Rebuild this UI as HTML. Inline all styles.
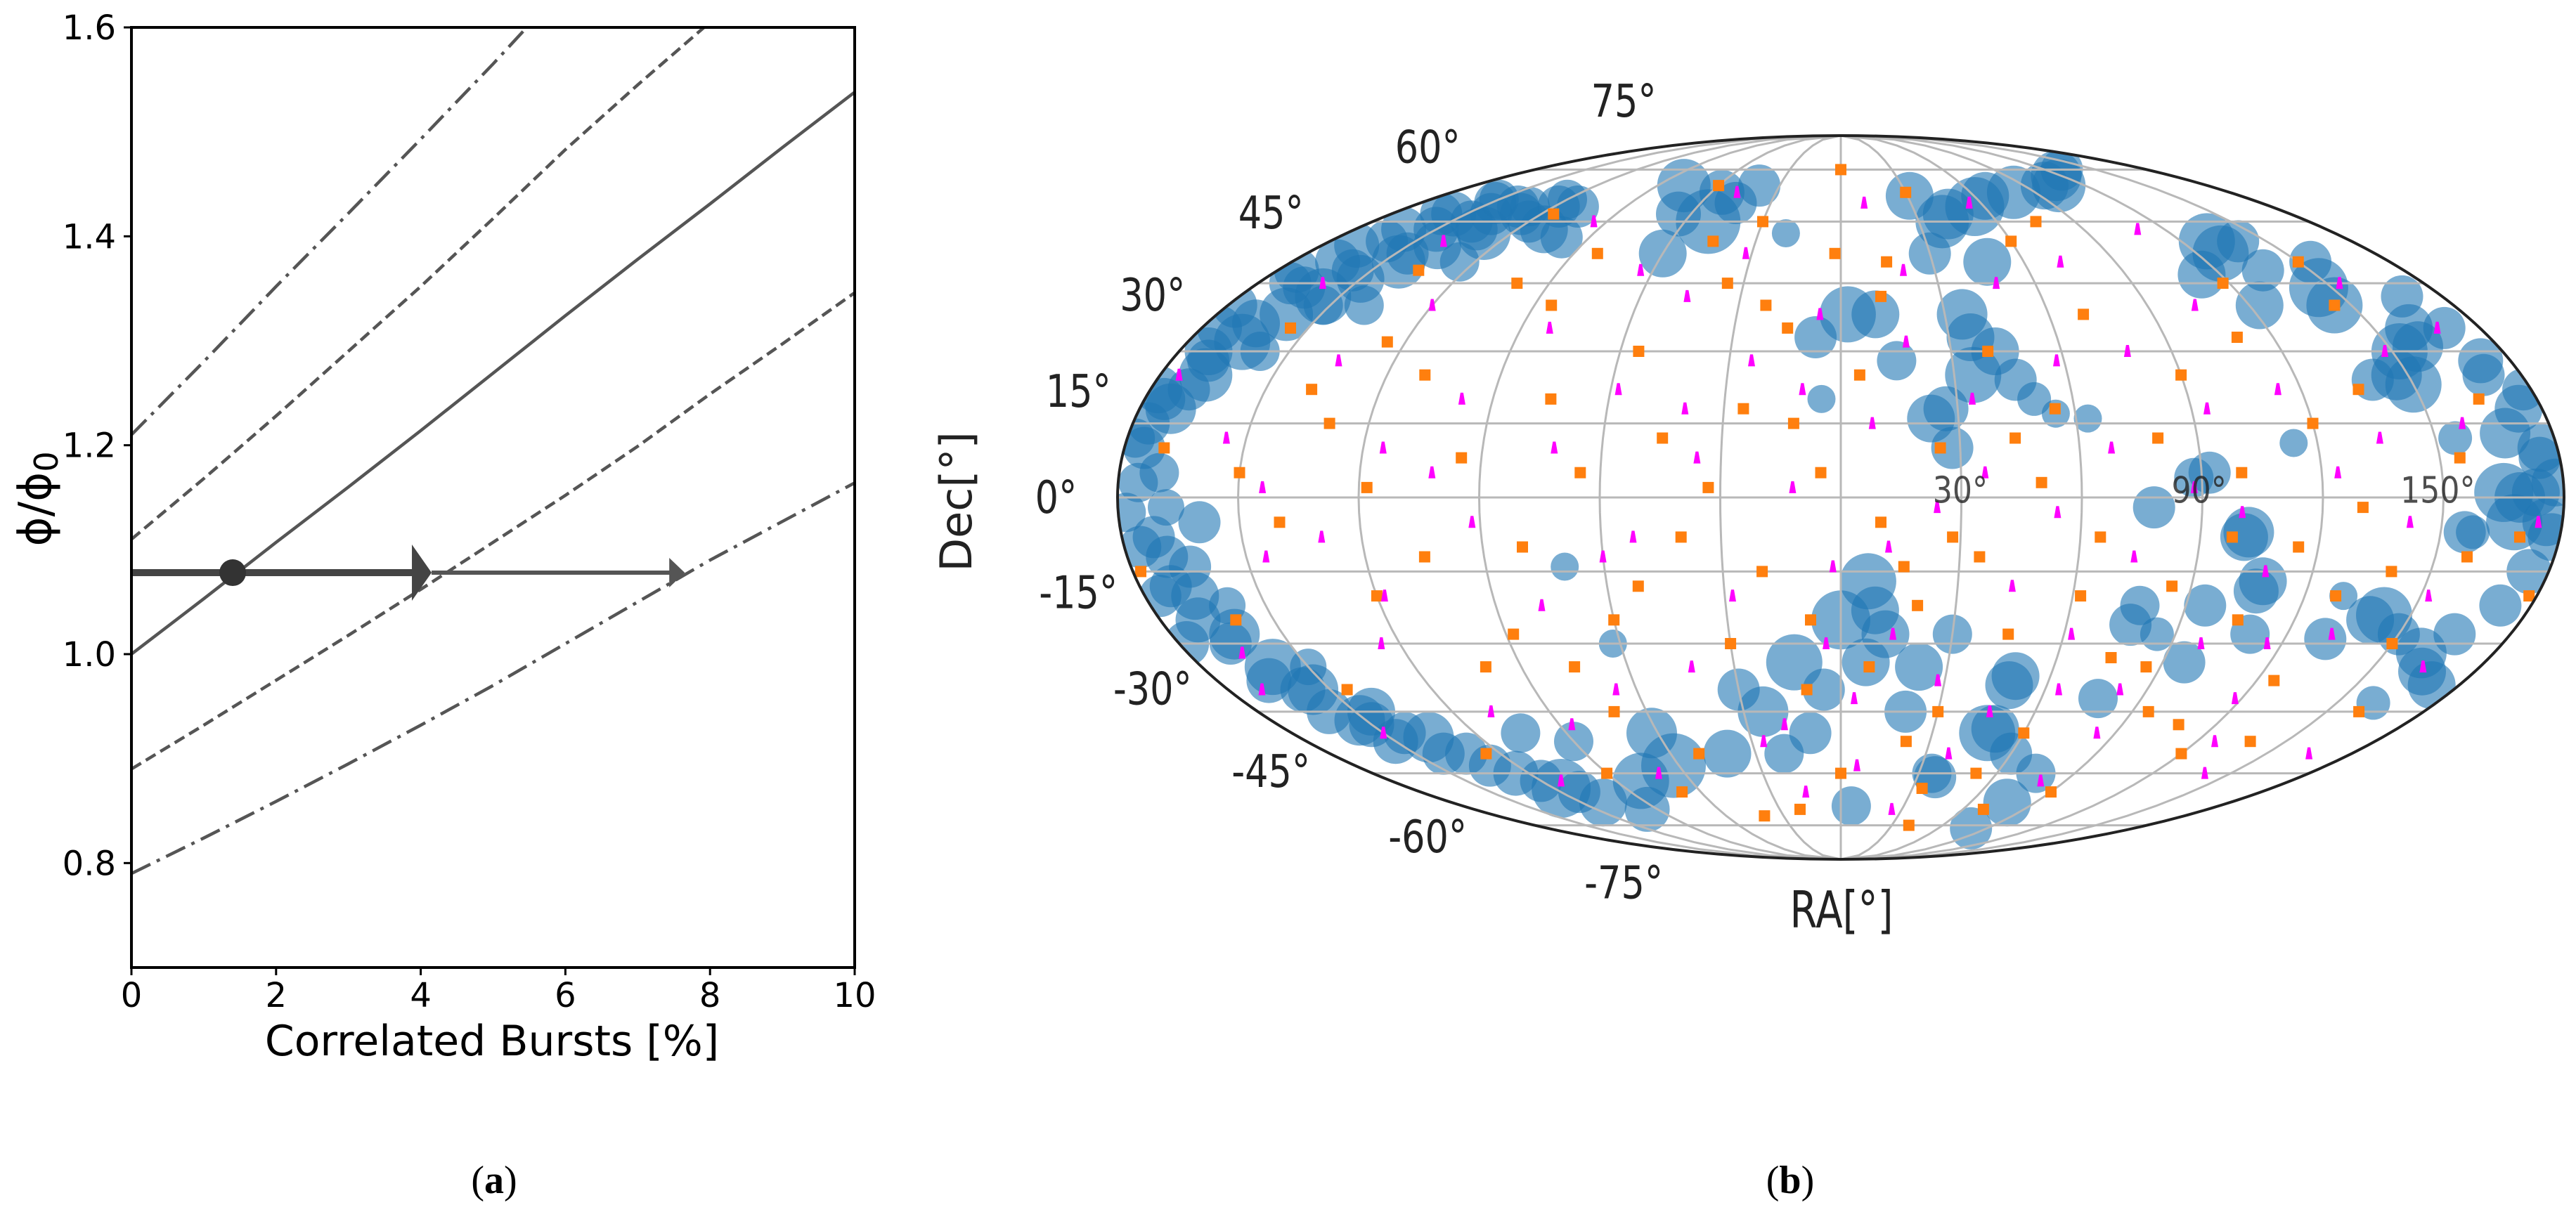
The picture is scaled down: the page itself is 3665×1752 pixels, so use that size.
<!DOCTYPE html>
<html><head><meta charset="utf-8">
<style>
html,body{margin:0;padding:0;background:#fff;}
svg{display:block;}
.tick{font-family:"DejaVu Sans","Liberation Sans",sans-serif;font-size:48px;fill:#000;}
.cond{font-family:"DejaVu Sans","Liberation Sans",sans-serif;fill:#222;}
</style></head>
<body>
<svg id="root" width="3665" height="1752" viewBox="0 0 3665 1752" xmlns="http://www.w3.org/2000/svg">
<defs>
<clipPath id="clipA"><rect x="187" y="39" width="1029" height="1338"/></clipPath>
<clipPath id="clipB"><ellipse cx="2619" cy="708" rx="1029" ry="515"/></clipPath>
</defs>
<g id="panelA"></g>
<g id="panelB"></g>
<text x="703" y="1698" font-family="Liberation Serif,serif" font-size="56" text-anchor="middle">(<tspan font-weight="bold">a</tspan>)</text>
<text x="2547" y="1698" font-family="Liberation Serif,serif" font-size="56" text-anchor="middle">(<tspan font-weight="bold">b</tspan>)</text>
</svg>
<script>
// ---------- Panel A data ----------
const xTicks = [0, 2, 4, 6, 8, 10];
const yTicks = [0.8, 1.0, 1.2, 1.4, 1.6];
const yTickLabels = ["0.8", "1.0", "1.2", "1.4", "1.6"];
const curveX = [0, 1, 2, 3, 4, 5, 6, 7, 8, 9, 10];
const solidY = [1.0, 1.053, 1.107, 1.160, 1.214, 1.269, 1.324, 1.378, 1.431, 1.485, 1.538];
const upperDashY = [1.11, 1.168, 1.228, 1.29, 1.352, 1.417, 1.483, 1.545, 1.605, 1.668, 1.73];
const upperDashDotY = [1.21, 1.28, 1.352, 1.422, 1.493, 1.565, 1.64, 1.715, 1.79, 1.865, 1.94];
const lowerDashY = [0.89, 0.932, 0.975, 1.018, 1.062, 1.107, 1.152, 1.199, 1.249, 1.297, 1.346];
const lowerDashDotY = [0.79, 0.824, 0.859, 0.895, 0.932, 0.97, 1.01, 1.05, 1.09, 1.127, 1.164];
const arrowLevel = [1.078];
const dotX = [1.4];
const arrow1End = [4.15];
const arrow2End = [7.65];

// ---------- Panel B data ----------
const blueLon = [-172,-168,-165,-160,-155,-150,-145,-140,-130,-120,-110,-100,-160,-150,-135,-175,-175,-178,-170,-158,-140,-125,
 -175,-170,-165,-160,-150,-140,-130,-120,-110,-175,-178,-170,-176,-172,-170,-165,-158,-150,-140,-125,-110,-95,-105,
 -178,-172,-166,-178,-174,-168,-162,-155,-148,-142,-135,-128,-118,-176,-170,-164,-156,-146,-152,-160,-170,-176,-178,-166,-158,-150,-143,-132,-120,-112,-168,-160,-150,
 -51,-77,-60,-45,-55,-40,-65,56,39,80,117,100,30,48,-20,43,107,31,65,130,
 2,35,35,23,42,-7,15,28,50,63,55,-5,10,36,27,46,
 128,146,152,150,168,165,168,123,140,160,170,175,135,114,155,129,145,158,147,174,169,140,114,154,
 176,178,172,178,175,170,165,178,172,168,
 78,102,108,78,96,88,95,110,85,92,101,107,77,
 143,160,172,150,161,130,158,140,165,131,156,173,176,
 7,0,-13,22,-24,-62,-62,-30,12,30,-5,-40,-80,-90,9,7,20,-10,-20,
 48,50,80,77,60,75,77,35,5,49,50,37,
 -172,-167,-165,-163,-160,-155,-152,-137,-145,-117,-130,-70,-62];
const blueLat = [18,25,32,38,42,46,50,54,57,60,58,56,62,66,64,10,3,-3,28,30,40,50,
 35,45,50,55,58,62,64,66,64,20,12,5,-10,-18,-25,-38,-45,-52,-55,-60,-68,-70,-50,
 22,30,36,40,48,54,58,62,65,60,58,62,64,15,22,44,48,52,40,-5,-12,-20,-30,-30,-40,-48,-50,-55,-62,-65,-2,-22,-35,
 60,70,52,65,68,70,62,64,60,68,73,70,52,50,57,62,70,67,67,75,
 38,38,25,16,30,33,28,10,20,16,17,20,38,33,18,24,
 52,44,30,23,13,1,-5,40,55,35,25,8,48,11,12,55,40,31,25,18,0,24,47,50,
 10,-8,28,3,-15,35,-28,22,-22,42,
 -2,-7,-17,-22,-34,4,-22,-28,-28,5,-8,-19,-26,
 -24,-32,-39,-28,-43,-20,-7,-25,-36,-29,-7,1,-5,
 -17,-25,-34,-35,-45,-58,-50,-40,-28,-28,-40,-55,-62,-52,-23,-34,-45,-50,-55,
 -50,-37,-76,-68,-55,-60,-42,-60,-69,-39,-49,-61,
 -8,-20,-14,-28,-35,-40,-47,-51,-45,-64,-58,-14,-30];
const blueSize = [36,38,40,38,40,34,38,34,38,30,34,30,30,28,30,30,28,28,30,28,28,28,
 32,30,32,30,32,30,28,28,30,30,28,28,30,30,32,32,32,32,30,32,34,32,28,
 34,34,34,32,32,32,32,32,30,30,30,30,30,30,30,30,30,30,28,30,30,30,32,30,32,32,30,30,30,30,26,26,26,
 46,38,34,30,32,30,32,42,38,38,36,34,30,34,20,36,38,34,34,30,
 40,36,40,34,34,30,28,30,24,20,20,20,34,34,32,30,
 40,42,40,40,36,42,40,34,30,34,30,30,30,20,24,40,40,36,36,34,36,30,34,30,
 34,34,32,34,32,30,30,30,30,30,
 30,36,34,28,30,28,30,28,24,30,34,32,30,
 40,36,34,30,24,20,24,34,34,30,30,34,34,
 40,42,40,34,36,46,36,30,34,28,30,34,40,28,34,34,30,30,28,
 40,34,30,34,30,28,28,28,28,34,34,30,
 30,34,30,36,40,36,36,36,34,42,30,20,20];
const orangeLon = [-150,-140,-130,-120,-110,-100,-95,-85,-80,-75,-70,-65,-60,-55,-50,-45,-40,-35,-30,-25,-20,-15,-10,-5,0,5,10,15,20,25,30,35,40,45,50,55,60,65,70,75,80,85,90,95,100,105,110,115,120,125,130,135,140,145,150,155,160,165,170,-170,-160,-155,-145,-135,-125,-115,-105,-90,-60,-30,0,30,60,90,120,150,-20,40,-45,75,-125,-88,-52,12,28,62,98,118,-8,-33,52,-68,108,138,-178,178,-100,22,-12,8,44,-75,86,128,158,-138,-118,-82,-22,-2,16,34,70,-40];
const orangeLat = [5,-5,15,-20,25,-35,8,40,-10,20,-45,5,-25,30,-55,12,-8,45,-30,18,-15,35,-40,5,-60,25,-5,50,-22,10,-45,-12,30,-28,3,18,-50,-8,38,-33,12,-18,25,-45,5,-25,33,-10,15,-38,-2,22,-15,40,-30,8,-45,20,-8,10,-25,35,-40,48,-55,62,-12,-60,70,60,75,68,55,-65,-55,50,-70,-75,55,60,32,-28,-18,42,-8,-20,-8,45,-25,2,-60,-65,-48,-52,-15,-20,45,-52,15,-35,12,-35,-35,-20,-12,22,2,52,40,52,-14,-64,-70,-72];
const magentaLon = [-155,-145,-135,-125,-115,-108,-98,-92,-82,-78,-72,-66,-58,-52,-46,-42,-36,-28,-24,-18,-12,-6,-2,4,8,14,18,24,28,34,38,44,48,54,58,64,68,74,78,84,88,94,98,104,108,114,118,124,132,136,142,148,152,158,164,168,174,-175,-165,-160,-150,-140,-130,-120,-112,-95,-70,-48,-15,10,25,55,80,110,140,165,-170,-32,62,-86,20,-60,100,-10,46,126,-118,72,-40,6,-102,36,154,-144,82,116,-26,-64,12,-4];
const magentaLat = [12,-12,28,-30,10,-45,20,-5,35,-22,10,-40,22,-8,42,-35,8,-20,28,-48,2,38,-14,-42,15,-28,32,-2,-38,20,-55,-18,45,-3,28,-40,10,-12,30,-50,2,18,-30,40,-15,22,-42,5,-28,12,-5,30,-20,15,-35,35,-5,25,-32,45,-50,55,-8,40,-62,60,-60,68,-65,65,-70,65,-62,58,-60,-55,-40,52,-28,-48,48,-12,-3,22,-45,-52,-20,50,18,-58,5,5,45,2,-40,-30,-52,48,-10,-30];
const decTicks = [75, 60, 45, 30, 15, 0, -15, -30, -45, -60, -75];
const decTickLabels = ["75°","60°","45°","30°","15°","0°","-15°","-30°","-45°","-60°","-75°"];
const raGridLons = [-150,-120,-90,-60,-30,0,30,60,90,120,150];
const raInnerLabels = ["30°","90°","150°"];
const raInnerLons = [30, 90, 150];

const NS = "http://www.w3.org/2000/svg";
function mk(parent, tag, attrs){ const e=document.createElementNS(NS,tag); for(const k in attrs) e.setAttribute(k,attrs[k]); parent.appendChild(e); return e; }

// ---------- Panel A ----------
const A = document.getElementById('panelA');
const X0=187, X1=1216, Y0=39, Y1=1377, YMIN=0.7, YMAX=1.6;
function ax(v){ return X0 + (v-0)/(10-0)*(X1-X0); }
function ay(v){ return Y1 - (v-YMIN)/(YMAX-YMIN)*(Y1-Y0); }
const plotG = mk(A,'g',{'clip-path':'url(#clipA)'});


function curve(ys, dash, name){
  const d = curveX.map((x,i)=>(i?'L':'M')+ax(x).toFixed(1)+','+ay(ys[i]).toFixed(1)).join(' ');
  const p = mk(plotG,'path',{d:d,fill:'none',stroke:'#555','stroke-width':4.5,'stroke-dasharray':dash});
  
  
}
curve(upperDashDotY,'30,10,5,10','upper-dash-dot-line');
curve(upperDashY,'16,8','upper-dashed-line');
curve(solidY,'none','solid-line');
curve(lowerDashY,'16,8','lower-dashed-line');
curve(lowerDashDotY,'30,10,5,10','lower-dash-dot-line');
const ly = ay(arrowLevel[0]);
const a2 = mk(plotG,'path',{d:`M${ax(arrow1End[0])},${ly} L${ax(arrow2End[0])-20},${ly}`,stroke:'#555','stroke-width':6,fill:'none'});


const h2 = mk(plotG,'path',{d:`M${ax(arrow2End[0])},${ly} L${ax(arrow2End[0])-22},${ly-21} L${ax(arrow2End[0])-22},${ly+21} Z`,fill:'#555'});


const a1 = mk(plotG,'path',{d:`M${ax(0)},${ly} L${ax(arrow1End[0])-25},${ly}`,stroke:'#444','stroke-width':10,fill:'none'});


const h1 = mk(plotG,'path',{d:`M${ax(arrow1End[0])},${ly} L${ax(arrow1End[0])-28},${ly-40} L${ax(arrow1End[0])-28},${ly+40} Z`,fill:'#444'});


const dot = mk(plotG,'circle',{cx:ax(dotX[0]),cy:ly,r:19,fill:'#333'});


const frame = mk(A,'rect',{x:X0,y:Y0,width:X1-X0,height:Y1-Y0,fill:'none',stroke:'#000','stroke-width':4});


xTicks.forEach(v=>{
  const t = mk(A,'line',{x1:ax(v),x2:ax(v),y1:Y1,y2:Y1+11,stroke:'#000','stroke-width':3});
  
  
  const l = mk(A,'text',{x:ax(v),y:1433,class:'tick','text-anchor':'middle'});
  l.textContent = String(v);
  
  
});
yTicks.forEach((v,i)=>{
  const t = mk(A,'line',{x1:X0-11,x2:X0,y1:ay(v),y2:ay(v),stroke:'#000','stroke-width':3});
  
  
  const l = mk(A,'text',{x:X0-22,y:ay(v)+17,class:'tick','text-anchor':'end'});
  l.textContent = yTickLabels[i];
  
  
});
const xl = mk(A,'text',{x:700,y:1502,'font-family':'DejaVu Sans,sans-serif','font-size':60,'text-anchor':'middle'});
xl.textContent = 'Correlated Bursts [%]';


const yl = mk(A,'text',{x:0,y:0,'font-family':'DejaVu Sans,sans-serif','font-size':64,'text-anchor':'middle',transform:'translate(72,710) rotate(-90)'});
yl.innerHTML = 'ϕ/ϕ<tspan font-size="46" dy="10">0</tspan>';



// ---------- Panel B ----------
const B = document.getElementById('panelB');
const CX=2619, CY=708, RX=1029, RY=515;
function theta(latDeg){
  const phi = latDeg*Math.PI/180;
  if (Math.abs(latDeg) >= 90) return Math.sign(latDeg)*Math.PI/2;
  let t = phi;
  for(let i=0;i<30;i++){ const f=2*t+Math.sin(2*t)-Math.PI*Math.sin(phi); const fp=2+2*Math.cos(2*t); if(fp<1e-9)break; t-=f/fp; }
  return t;
}
function px(lon,lat){ const t=theta(lat); return CX + RX*(lon/180)*Math.cos(t); }
function py(lat){ return CY - RY*Math.sin(theta(lat)); }

const bg = mk(B,'ellipse',{cx:CX,cy:CY,rx:RX,ry:RY,fill:'#fff'});


const mapG = mk(B,'g',{'clip-path':'url(#clipB)'});


blueLon.forEach((lon,i)=>{
  const c = mk(mapG,'circle',{cx:px(lon,blueLat[i]).toFixed(1),cy:py(blueLat[i]).toFixed(1),r:blueSize[i],fill:'#1f77b4','fill-opacity':0.6});
  
  
});
const gridG = mk(mapG,'g',{stroke:'#b8b8b8','stroke-width':3,fill:'none'});


decTicks.forEach(lat=>{
  const l = mk(gridG,'line',{x1:px(-180,lat),x2:px(180,lat),y1:py(lat),y2:py(lat)});
  
  
});
raGridLons.forEach(lon=>{
  let d='';
  for(let lat=-90;lat<=90;lat+=3){ d+=(lat===-90?'M':'L')+px(lon,lat).toFixed(1)+','+py(lat).toFixed(1)+' '; }
  const p = mk(gridG,'path',{d:d});
  
  
});
orangeLon.forEach((lon,i)=>{
  const x=px(lon,orangeLat[i]), y=py(orangeLat[i]);
  const r = mk(mapG,'rect',{x:(x-8).toFixed(1),y:(y-8).toFixed(1),width:16,height:16,fill:'#ff7f0e'});
  
  
});
magentaLon.forEach((lon,i)=>{
  const x=px(lon,magentaLat[i]), y=py(magentaLat[i]);
  const r = mk(mapG,'path',{d:`M${(x-5).toFixed(1)},${(y+8).toFixed(1)} L${(x-2).toFixed(1)},${(y-9).toFixed(1)} L${(x+2).toFixed(1)},${(y-9).toFixed(1)} L${(x+5).toFixed(1)},${(y+8).toFixed(1)} Z`,fill:'#ff00ff'});
  
  
});
raInnerLons.forEach((lon,i)=>{
  const t = mk(mapG,'text',{x:0,y:0,class:'cond','font-size':52,'text-anchor':'middle',transform:`translate(${px(lon,10).toFixed(1)},${(py(10)+78).toFixed(1)}) scale(0.85,1)`});
  t.setAttribute('fill','#ffffff');
  t.setAttribute('fill-opacity','0.8');
  t.textContent = raInnerLabels[i];
  
  
});
const border = mk(B,'ellipse',{cx:CX,cy:CY,rx:RX,ry:RY,fill:'none',stroke:'#222','stroke-width':4});


decTicks.forEach((lat,i)=>{
  const t0 = Math.abs(theta(lat));
  const ang = t0*(1.35 - 0.2*t0/1.13) * Math.sign(lat);
  const s = 1.085 + 0.05*t0/1.13;
  const x = CX - RX*s*Math.cos(ang);
  const y = CY - RY*s*Math.sin(ang) + (lat<0 ? -15 : 0);
  const t = mk(B,'text',{x:0,y:0,class:'cond','font-size':64,'text-anchor':'middle','dominant-baseline':'central',transform:`translate(${x.toFixed(1)},${y.toFixed(1)}) scale(0.82,1)`});
  t.textContent = decTickLabels[i];
  
  
});
const dl = mk(B,'text',{x:0,y:0,'font-family':'DejaVu Sans,sans-serif','font-size':62,fill:'#222','text-anchor':'middle',transform:'translate(1382,714) rotate(-90)'});
dl.textContent = 'Dec[°]';


const rl = mk(B,'text',{x:0,y:0,class:'cond','font-size':72,'text-anchor':'middle',transform:'translate(2620,1320) scale(0.78,1)'});
rl.textContent = 'RA[°]';


</script>
</body></html>
